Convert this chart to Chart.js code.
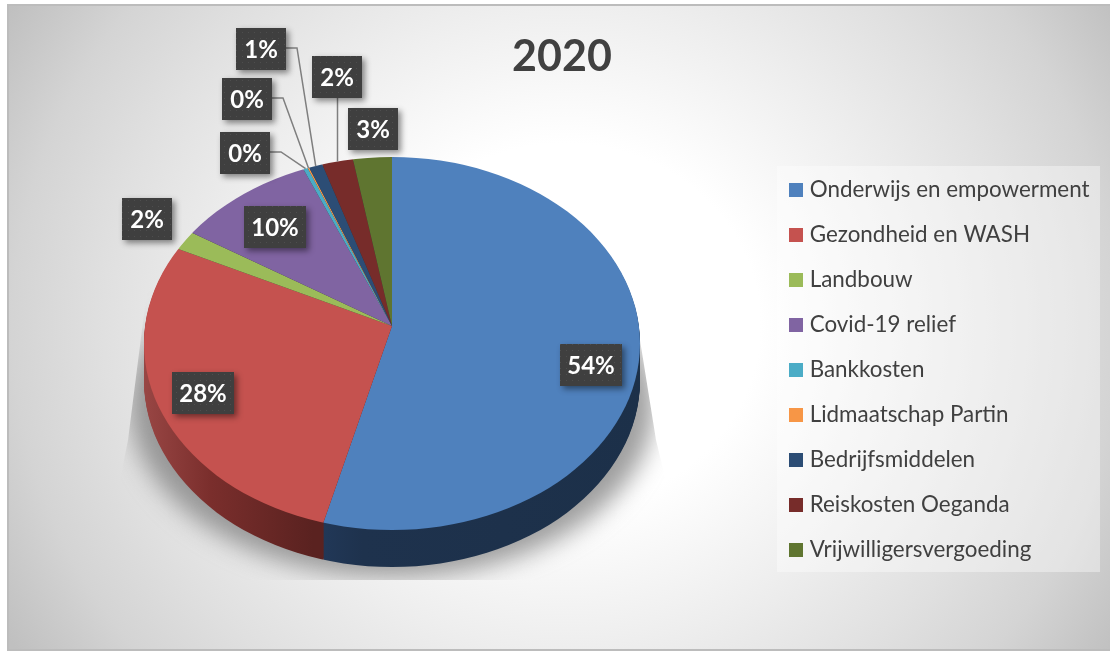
<!DOCTYPE html>
<html>
<head>
<meta charset="utf-8">
<title>2020</title>
<script src="https://cdn.jsdelivr.net/npm/chart.js@4"></script>
<style>
    html, body { margin: 0; padding: 0; background: #fff; overflow: hidden; }
    canvas { display: block; }
</style>
</head>
<body>
<canvas id="chart" width="1110" height="651"></canvas>
<script>
const categories = ["Onderwijs en empowerment", "Gezondheid en WASH", "Landbouw", "Covid-19 relief", "Bankkosten", "Lidmaatschap Partin", "Bedrijfsmiddelen", "Reiskosten Oeganda", "Vrijwilligersvergoeding"];
const shares = [54.45, 28.3, 1.8, 9.6, 0.3, 0.1, 0.9, 2.03, 2.52];
const colors = ["#4f81bd", "#c5524f", "#9bbb59", "#8064a2", "#4bacc6", "#f79646", "#2c4d75", "#772c2a", "#5f7530"];

// top-left corner of each value label, and where its leader line leaves the box
const labelBoxX = [560, 172, 122, 244, 220, 222, 236, 312, 348];
const labelBoxY = [344, 372, 198, 206, 132, 78, 28, 56, 108];
const labelLeader = [null, null, null, null, "right", "right", "right", "bottom", null];

// the pie is tilted with some perspective: the centre sits above the middle of the ellipse
const PIE = { cx: 392, cy: 326, rx: 248, top: 157, bottom: 530, depth: 37 };
const ellipseY = (PIE.top + PIE.bottom) / 2;
const ellipseRy = (PIE.bottom - PIE.top) / 2;
const OVERSIZE = 1.2;

function ellipsePath(ctx, dy) {
    ctx.beginPath();
    ctx.ellipse(PIE.cx, ellipseY + dy, PIE.rx, ellipseRy, 0, 0, Math.PI * 2);
}

// maps the library's round pie onto the tilted one, upper and lower half differ
function pieTransform(ctx, arc, upper) {
    const R = arc.outerRadius;
    const ry = upper ? PIE.cy - PIE.top : PIE.bottom - PIE.cy;
    ctx.translate(PIE.cx, PIE.cy);
    ctx.scale(OVERSIZE * PIE.rx / R, OVERSIZE * ry / R);
    ctx.translate(-arc.x, -arc.y);
}

function drawArcs(ctx, arcs, fill) {
    [true, false].forEach(upper => {
        ctx.save();
        ctx.beginPath();
        if (upper) ctx.rect(0, 0, 1110, PIE.cy);
        else ctx.rect(0, PIE.cy, 1110, 651 - PIE.cy);
        ctx.clip();
        pieTransform(ctx, arcs[0], upper);
        arcs.forEach((arc, i) => {
            const saved = arc.options;
            if (fill) arc.options = { ...saved, backgroundColor: fill(i) };
            arc.draw(ctx);
            arc.options = saved;
        });
        ctx.restore();
    });
}

// point where the middle of a slice meets the rim of the ellipse
function rimPoint(arc) {
    const a = (arc.startAngle + arc.endAngle) / 2;
    const ry = Math.sin(a) < 0 ? PIE.cy - PIE.top : PIE.bottom - PIE.cy;
    const dx = Math.cos(a) * PIE.rx, dy = Math.sin(a) * ry;
    const off = PIE.cy - ellipseY;
    const A = (dx * dx) / (PIE.rx * PIE.rx) + (dy * dy) / (ellipseRy * ellipseRy);
    const B = 2 * off * dy / (ellipseRy * ellipseRy);
    const C = (off * off) / (ellipseRy * ellipseRy) - 1;
    const t = (-B + Math.sqrt(B * B - 4 * A * C)) / (2 * A);
    return { x: PIE.cx + t * dx, y: PIE.cy + t * dy };
}

function sideFill(ctx) {
    const red = ctx.createLinearGradient(145, 0, 322, 0);
    red.addColorStop(0, "#a04c4a");
    red.addColorStop(0.45, "#7a2e2c");
    red.addColorStop(1, "#5a2220");
    const blue = ctx.createLinearGradient(322, 0, 640, 0);
    blue.addColorStop(0, "#22395a");
    blue.addColorStop(0.15, "#1e324d");
    blue.addColorStop(1, "#1c3049");
    return i => (i === 0 ? blue : i === 1 ? red : "#333");
}

function drawFloorShadow(ctx) {
    ctx.save();
    ctx.beginPath();
    ctx.moveTo(147, 290);
    ctx.lineTo(128, 440);
    ctx.lineTo(100, 580);
    ctx.lineTo(690, 580);
    ctx.lineTo(656, 440);
    ctx.lineTo(640, 340);
    ctx.closePath();
    ctx.clip();
    ctx.filter = "blur(12px)";
    ctx.fillStyle = "rgba(120,120,120,0.72)";
    ctx.beginPath();
    ctx.ellipse(PIE.cx, 405, PIE.rx + 14, 172, 0, 0, Math.PI * 2);
    ctx.fill();
    ctx.restore();
}

const backgroundPlugin = {
    id: "background",
    beforeDraw(chart) {
        const ctx = chart.ctx;
        ctx.save();
        ctx.fillStyle = "#fff";
        ctx.fillRect(0, 0, 1110, 651);
        ctx.beginPath();
        ctx.rect(7, 4, 1103, 647);
        ctx.clip();
        ctx.translate(565, 325);
        ctx.scale(650 / 605, 1);
        const g = ctx.createRadialGradient(0, 0, 0, 0, 0, 605);
        g.addColorStop(0, "#ffffff");
        g.addColorStop(0.3, "#ffffff");
        g.addColorStop(0.53, "#eeeeee");
        g.addColorStop(0.71, "#e0e0e0");
        g.addColorStop(0.85, "#d4d4d4");
        g.addColorStop(1, "#c0c0c0");
        ctx.fillStyle = g;
        ctx.fillRect(-800, -800, 1600, 1600);
        ctx.restore();
        ctx.fillStyle = "#bcbcbc";
        ctx.fillRect(7, 4, 1103, 2);
        ctx.fillRect(7, 649, 1103, 2);
        ctx.fillRect(7, 4, 2, 647);
        // legend panel
        ctx.fillStyle = "rgba(255,255,255,0.38)";
        ctx.fillRect(777, 166, 323, 406);
    }
};

const piePlugin = {
    id: "pie3d",
    afterLayout(chart) {
        // legend sits lower than the chart's middle
        const legend = chart.legend;
        const h = legend.bottom - legend.top, w = legend.right - legend.left;
        legend.top = 369.5 - h / 2;
        legend.bottom = legend.top + h;
        legend.left = 770.9;
        legend.right = legend.left + w;
    },
    beforeDatasetsDraw(chart) {
        const ctx = chart.ctx;
        const arcs = chart.getDatasetMeta(0).data;

        drawFloorShadow(ctx);

        // side wall: the same slices, darker, stacked downwards
        const fill = sideFill(ctx);
        for (let d = PIE.depth; d > 0; d--) {
            ctx.save();
            ellipsePath(ctx, d);
            ctx.clip();
            ctx.translate(0, d);
            drawArcs(ctx, arcs, fill);
            ctx.restore();
        }

        // top face
        ctx.save();
        ellipsePath(ctx, 0);
        ctx.clip();
        drawArcs(ctx, arcs, null);
        ctx.restore();
        return false;
    },
    afterDraw(chart) {
        const ctx = chart.ctx;
        const arcs = chart.getDatasetMeta(0).data;
        const total = shares.reduce((a, b) => a + b, 0);

        const tile = document.createElement("canvas");
        tile.width = tile.height = 6;
        const t = tile.getContext("2d");
        t.fillStyle = "#3f3f3f";
        t.fillRect(0, 0, 6, 6);
        t.fillStyle = "#4e4e4e";
        t.fillRect(2, 2, 1, 1);
        const pattern = ctx.createPattern(tile, "repeat");

        // leader lines first, boxes sit on top of them
        ctx.save();
        ctx.strokeStyle = "#7f7f7f";
        ctx.lineWidth = 1.5;
        shares.forEach((v, i) => {
            if (!labelLeader[i]) return;
            const end = rimPoint(arcs[i]);
            ctx.beginPath();
            if (labelLeader[i] === "right") {
                const y = labelBoxY[i] + 20;
                ctx.moveTo(labelBoxX[i] + 50, y);
                ctx.lineTo(labelBoxX[i] + 61, y);
            } else {
                ctx.moveTo(end.x, labelBoxY[i] + 42);
            }
            ctx.lineTo(end.x, end.y);
            ctx.stroke();
        });
        ctx.restore();

        shares.forEach((v, i) => {
            const text = Math.round(v / total * 100) + "%";
            const w = text.length > 2 ? 62 : 50;
            ctx.save();
            ctx.shadowColor = "rgba(0,0,0,0.45)";
            ctx.shadowBlur = 6;
            ctx.shadowOffsetX = 3;
            ctx.shadowOffsetY = 3;
            ctx.fillStyle = "#3f3f3f";
            ctx.fillRect(labelBoxX[i], labelBoxY[i], w, 42);
            ctx.restore();
            ctx.fillStyle = pattern;
            ctx.fillRect(labelBoxX[i], labelBoxY[i], w, 42);
            ctx.fillStyle = "#fff";
            ctx.font = "bold 24px Lato";
            ctx.textAlign = "center";
            ctx.textBaseline = "middle";
            ctx.fillText(text, labelBoxX[i] + w / 2, labelBoxY[i] + 22);
        });
    }
};

// square legend swatch, wider than the library's narrow box so the text stays close
function swatch(color) {
    const c = document.createElement("canvas");
    c.width = c.height = 14;
    const s = c.getContext("2d");
    s.fillStyle = color;
    s.fillRect(0, 0, 14, 14);
    return c;
}

new Chart(document.getElementById("chart"), {
    type: "pie",
    plugins: [backgroundPlugin, piePlugin],
    data: {
        labels: categories,
        datasets: [{ data: shares, backgroundColor: colors, borderWidth: 0 }]
    },
    options: {
        responsive: false,
        animation: false,
        layout: { padding: { left: 14, top: 31 } },
        plugins: {
            tooltip: { enabled: false },
            title: {
                display: true,
                text: "2020",
                color: "#404040",
                padding: 0,
                font: { family: "Lato", size: 43, weight: "bold" }
            },
            legend: {
                position: "right",
                labels: {
                    usePointStyle: true,
                    boxWidth: 5,
                    boxHeight: 14,
                    padding: 22.6,
                    color: "#404040",
                    font: { family: "Lato", size: 22.4 },
                    generateLabels(chart) {
                        return Chart.overrides.pie.plugins.legend.labels.generateLabels(chart).map((item, i) => ({
                            ...item,
                            pointStyle: swatch(colors[i])
                        }));
                    }
                }
            }
        }
    }
});
</script>
</body>
</html>
